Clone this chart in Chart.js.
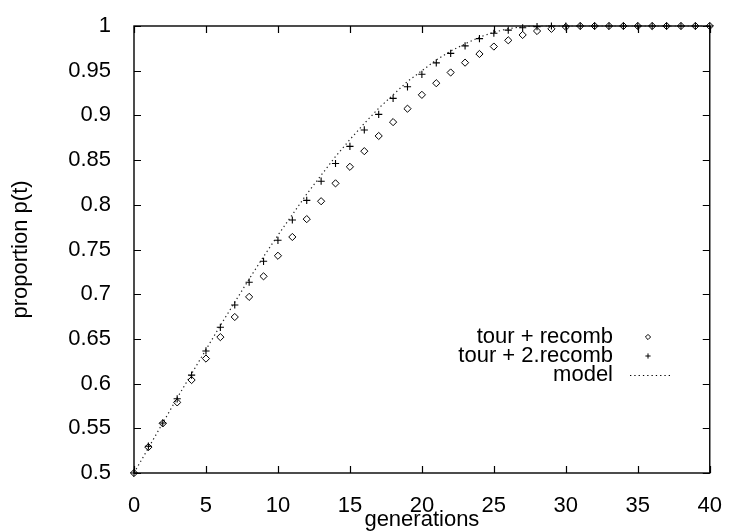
<!DOCTYPE html>
<html>
<head>
<meta charset="utf-8">
<script src="https://cdn.jsdelivr.net/npm/chart.js@4/dist/chart.umd.min.js"></script>
<style>
  html, body { margin: 0; padding: 0; background: #fff; }
  #wrap { width: 734px; height: 532px; }
</style>
</head>
<body>
<div id="wrap"><canvas id="c" width="734" height="532"></canvas></div>
<script>
// generations on the x axis
const generations = [0,1,2,3,4,5,6,7,8,9,10,11,12,13,14,15,16,17,18,19,20,
  21,22,23,24,25,26,27,28,29,30,31,32,33,34,35,36,37,38,39,40];

// proportion p(t) with tournament selection + recombination
const tourRecomb = [0.500,0.529,0.5555,0.579,0.604,0.628,0.652,0.6745,0.697,0.720,
  0.743,0.764,0.784,0.804,0.824,0.8425,0.860,0.877,0.8925,0.9075,
  0.923,0.936,0.948,0.959,0.9687,0.977,0.984,0.990,0.9944,0.9968,
  0.999,1,1,1,1,1,1,1,1,1,1];

// proportion p(t) with tournament selection + 2 recombination steps
const tour2Recomb = [0.500,0.530,0.556,0.583,0.6095,0.6365,0.663,0.688,0.7134,0.7368,
  0.7603,0.783,0.805,0.8264,0.8462,0.8653,0.8837,0.9011,0.919,0.932,
  0.946,0.9588,0.9694,0.9778,0.9859,0.9919,0.9954,0.998,0.9993,1,
  1,1,1,1,1,1,1,1,1,1,1];

// predicted proportion from the convergence model
const model = [0.500,0.528,0.556,0.584,0.611,0.638,0.665,0.691,0.717,0.742,
  0.766,0.789,0.812,0.833,0.854,0.873,0.891,0.908,0.923,0.938,
  0.950,0.962,0.972,0.980,0.9875,0.993,0.997,0.9992,1,1,
  1,1,1,1,1,1,1,1,1,1,1];

const seriesLabels = ['tour + recomb', 'tour + 2.recomb', 'model'];

const FONT = '"Liberation Sans", Arial, Helvetica, sans-serif';
const toXY = ys => generations.map((g, i) => ({ x: g, y: ys[i] }));

// Box border with inward ticks on all four sides, gnuplot style
const framePlugin = {
  id: 'frame',
  beforeDatasetsDraw(chart) {
    const { ctx, chartArea: a, scales: { x, y } } = chart;
    const tl = 7;
    ctx.save();
    ctx.strokeStyle = '#000';
    ctx.lineWidth = 1.4;
    ctx.strokeRect(a.left, a.top, a.right - a.left, a.bottom - a.top);
    ctx.lineWidth = 1.2;
    ctx.beginPath();
    x.ticks.forEach(t => {
      const px = Math.round(x.getPixelForValue(t.value)) + 0.5;
      ctx.moveTo(px, a.bottom); ctx.lineTo(px, a.bottom - tl);
      ctx.moveTo(px, a.top); ctx.lineTo(px, a.top + tl);
    });
    y.ticks.forEach(t => {
      const py = Math.round(y.getPixelForValue(t.value)) + 0.5;
      ctx.moveTo(a.left, py); ctx.lineTo(a.left + tl, py);
      ctx.moveTo(a.right, py); ctx.lineTo(a.right - tl, py);
    });
    ctx.stroke();
    ctx.restore();
  }
};

// Key inside the plot: right-aligned text followed by the sample
const keyPlugin = {
  id: 'key',
  afterDatasetsDraw(chart) {
    const { ctx } = chart;
    const textRight = 613, sampleX = 648, rowY = [337, 356, 375];
    ctx.save();
    ctx.font = '22px ' + FONT;
    ctx.textAlign = 'right';
    ctx.textBaseline = 'middle';
    chart.data.datasets.forEach((ds, i) => {
      const yy = rowY[i];
      ctx.fillStyle = '#000';
      ctx.fillText(ds.label, textRight, yy);
      ctx.strokeStyle = '#000';
      if (ds.showLine) {
        ctx.lineWidth = 1.2;
        ctx.setLineDash(ds.borderDash);
        ctx.beginPath();
        ctx.moveTo(630, yy + 0.5); ctx.lineTo(670, yy + 0.5);
        ctx.stroke();
        ctx.setLineDash([]);
      } else {
        ctx.lineWidth = 1;
        ctx.fillStyle = 'rgba(0,0,0,0)';
        Chart.helpers.drawPoint(ctx, { pointStyle: ds.pointStyle, radius: 2.6, rotation: 0, borderWidth: 1 }, sampleX, yy);
      }
    });
    ctx.restore();
  }
};

new Chart(document.getElementById('c'), {
  type: 'scatter',
  data: {
    datasets: [
      {
        label: seriesLabels[0], data: toXY(tourRecomb),
        pointStyle: 'rectRot', pointRadius: 3.6, pointBorderWidth: 1,
        borderColor: '#000', backgroundColor: 'rgba(0,0,0,0)', showLine: false, clip: false
      },
      {
        label: seriesLabels[1], data: toXY(tour2Recomb),
        pointStyle: 'cross', pointRadius: 3.6, pointBorderWidth: 1.1,
        borderColor: '#000', backgroundColor: 'rgba(0,0,0,0)', showLine: false, clip: false
      },
      {
        label: seriesLabels[2], data: toXY(model),
        showLine: true, pointRadius: 0, borderWidth: 1.2, borderDash: [1.3, 3],
        borderColor: '#222', backgroundColor: 'rgba(0,0,0,0)', tension: 0, clip: false
      }
    ]
  },
  options: {
    responsive: false,
    animation: false,
    devicePixelRatio: 1,
    layout: { padding: { top: 14, right: 15, left: 0, bottom: 0 } },
    plugins: { legend: { display: false }, tooltip: { enabled: false } },
    scales: {
      x: {
        type: 'linear', min: 0, max: 40,
        grid: { display: false }, border: { display: false },
        ticks: { stepSize: 5, padding: 12, color: '#000', font: { family: FONT, size: 22 }, maxRotation: 0 },
        title: { display: true, text: 'generations', color: '#000', font: { family: FONT, size: 22 }, padding: { top: 0, bottom: -1 } },
        afterFit(s) { s.height = 59; }
      },
      y: {
        type: 'linear', min: 0.5, max: 1,
        grid: { display: false }, border: { display: false },
        ticks: {
          stepSize: 0.05, padding: 15, color: '#000', font: { family: FONT, size: 22, lineHeight: 1 },
          callback: v => String(parseFloat(v.toFixed(2)))
        },
        title: { display: true, text: 'proportion p(t)', color: '#000', font: { family: FONT, size: 22 }, padding: { top: 8, bottom: 0 } },
        afterFit(s) { s.width = 134; }
      }
    }
  },
  plugins: [framePlugin, keyPlugin]
});
</script>
</body>
</html>
